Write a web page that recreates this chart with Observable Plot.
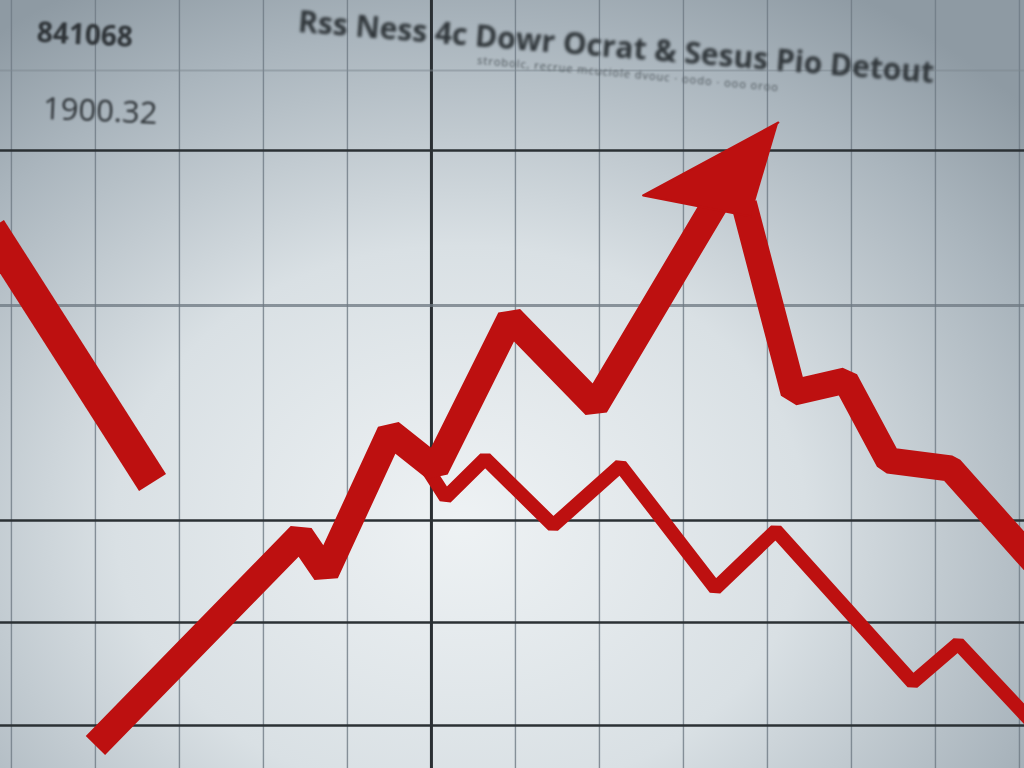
<!DOCTYPE html>
<html>
<head>
<meta charset="utf-8">
<script src="https://cdn.jsdelivr.net/npm/d3@7"></script>
<script src="https://cdn.jsdelivr.net/npm/@observablehq/plot@0.6"></script>
<style>
  html, body { margin: 0; padding: 0; width: 1024px; height: 768px; overflow: hidden; }
  #stage {
    position: relative; width: 1024px; height: 768px; overflow: hidden;
    background: radial-gradient(ellipse 75% 80% at 45% 68%, #eef2f4 0%, #d9e0e4 45%, #aab5bd 80%, #8e9aa3 100%);
    font-family: "Open Sans", "DejaVu Sans", sans-serif;
  }
  #chart { position: absolute; left: 0; top: 0; }
  #chart svg { filter: blur(0.7px); }
  .title {
    position: absolute; left: 300px; top: 0px; white-space: nowrap;
    font-size: 30px; font-weight: 700; color: #30363a;
    transform: rotate(4.6deg); transform-origin: left top; filter: blur(1.4px);
  }
  .subtitle {
    position: absolute; left: 478px; top: 52px; white-space: nowrap;
    font-size: 11px; color: #4b5358; letter-spacing: 1px;
    transform: rotate(5.2deg); transform-origin: left top; filter: blur(1.1px);
  }
  .lab1 {
    position: absolute; left: 38px; top: 12px; font-size: 28px; font-weight: 700;
    color: #2e3337; transform: rotate(3deg); transform-origin: left top; filter: blur(1.3px);
  }
  .lab2 {
    position: absolute; left: 44px; top: 86px; font-size: 31px; color: #2e3337;
    transform: rotate(2.5deg); transform-origin: left top; filter: blur(1.1px);
  }
</style>
</head>
<body>
<div id="stage">
  <div id="chart"></div>
  <div class="title">Rss Ness 4c Dowr Ocrat &amp; Sesus Pio Detout</div>
  <div class="subtitle">strobolc, recrue mcuciole dvouc · oodo · ooo oroo</div>
  <div class="lab1">841068</div>
  <div class="lab2">1900.32</div>
</div>
<script>
// ---- data (x: period index, y: index level) ----
const gridX = [0, 1, 2, 3, 4, 6, 7, 8, 9, 10, 11, 12];
const gridXMajor = [5];
const gridYFaint = [69.8];
const gridYLight = [46.3];
const gridYDark = [61.8, 24.8, 14.6, 4.3];

// thick rising series (ends inside arrow head)
const riseX = [1.0, 3.44, 3.74, 4.51, 5.05, 5.94, 6.95, 8.40];
const riseY = [2.3, 23.3, 19.6, 33.6, 30.0, 45.0, 36.3, 56.8];

// arrow head outline: tip, left barb, right barb
const headX = [9.13, 7.52, 8.80];
const headY = [64.6, 57.3, 55.2];

// thick falling series after the peak
const fallX = [8.72, 9.31, 9.93, 10.44, 11.18, 12.37];
const fallY = [56.5, 37.6, 38.8, 30.8, 30.0, 18.8];

// thick fragment at left
const leftX = [-0.25, 1.68];
const leftY = [54.0, 28.6];

// thin series
const thinX = [4.85, 5.17, 5.64, 6.45, 7.25, 8.38, 9.10, 10.73, 11.27, 12.13];
const thinY = [31.3, 27.1, 31.0, 24.3, 30.3, 18.0, 23.8, 8.6, 12.5, 4.8];

const toPts = (xs, ys) => xs.map((x, i) => ({x, y: ys[i]}));
const rise = toPts(riseX, riseY);
const fall = toPts(fallX, fallY);
const left = toPts(leftX, leftY);
const thin = toPts(thinX, thinY);
const head = toPts(headX, headY);

const red = "#bd1010";

const chart = Plot.plot({
  width: 1024,
  height: 768,
  margin: 0,
  x: {domain: [-0.13, 12.06], axis: null},
  y: {domain: [0, 76.8], axis: null},
  style: {background: "transparent", overflow: "hidden"},
  marks: [
    Plot.ruleX(gridX, {stroke: "#6f7b84", strokeWidth: 1.4, strokeOpacity: 0.8}),
    Plot.ruleX(gridXMajor, {stroke: "#2a2f33", strokeWidth: 3}),
    Plot.ruleY(gridYFaint, {stroke: "#7d8890", strokeWidth: 2, strokeOpacity: 0.5}),
    Plot.ruleY(gridYLight, {stroke: "#6c7780", strokeWidth: 3, strokeOpacity: 0.75}),
    Plot.ruleY(gridYDark, {stroke: "#2b3134", strokeWidth: 2.5}),
    Plot.line(left, {x: "x", y: "y", stroke: red, strokeWidth: 32, strokeLinecap: "butt", clip: true}),
    Plot.line(thin, {x: "x", y: "y", stroke: red, strokeWidth: 14, strokeLinejoin: "miter", strokeLinecap: "butt", clip: true}),
    Plot.line(fall, {x: "x", y: "y", stroke: red, strokeWidth: 26, strokeLinejoin: "miter", strokeLinecap: "butt", clip: true}),
    Plot.line(rise, {x: "x", y: "y", stroke: red, strokeWidth: 27, strokeLinejoin: "miter", strokeLinecap: "butt"}),
    Plot.line(head, {x: "x", y: "y", fill: red, stroke: red, strokeWidth: 2, strokeLinejoin: "round"})
  ]
});
document.getElementById("chart").appendChild(chart);
</script>
</body>
</html>
